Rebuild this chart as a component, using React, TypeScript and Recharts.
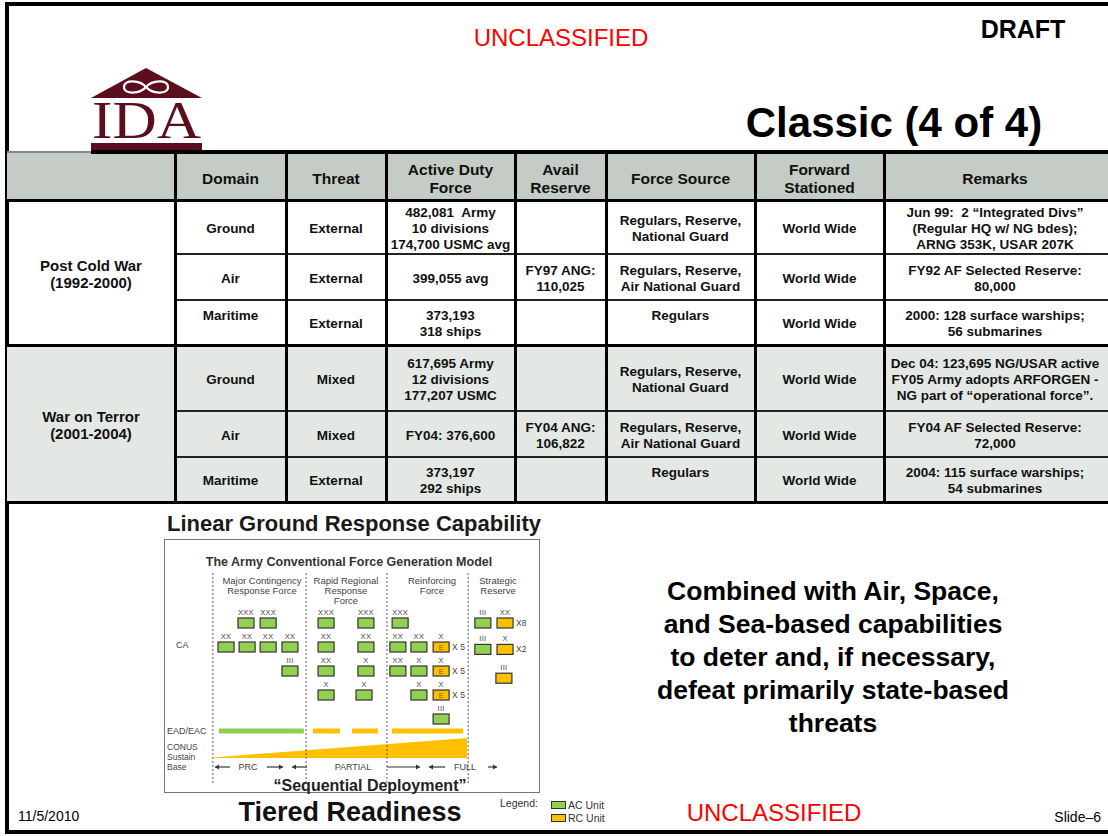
import React from "react";
import { ComposedChart, XAxis, YAxis, Scatter, Area, ReferenceLine } from "recharts";

const FONT = "'Liberation Sans', Arial, Helvetica, sans-serif";

// ---- table data ----
const headers = ["", "Domain", "Threat", "Active Duty\nForce", "Avail\nReserve", "Force Source", "Forward\nStationed", "Remarks"];
const eras = ["Post Cold War\n(1992-2000)", "War on Terror\n(2001-2004)"];
const domains = ["Ground", "Air", "Maritime", "Ground", "Air", "Maritime"];
const threats = ["External", "External", "External", "Mixed", "Mixed", "External"];
const activeForce = [
  "482,081  Army\n10 divisions\n174,700 USMC avg",
  "399,055 avg",
  "373,193\n318 ships",
  "617,695 Army\n12 divisions\n177,207 USMC",
  "FY04: 376,600",
  "373,197\n292 ships",
];
const availReserve = ["", "FY97 ANG:\n110,025", "", "", "FY04 ANG:\n106,822", ""];
const forceSource = [
  "Regulars, Reserve,\nNational Guard",
  "Regulars, Reserve,\nAir National Guard",
  "Regulars",
  "Regulars, Reserve,\nNational Guard",
  "Regulars, Reserve,\nAir National Guard",
  "Regulars",
];
const forwardStationed = ["World Wide", "World Wide", "World Wide", "World Wide", "World Wide", "World Wide"];
const remarks = [
  "Jun 99:  2 \u201cIntegrated Divs\u201d\n(Regular HQ w/ NG bdes);\nARNG 353K, USAR 207K",
  "FY92 AF Selected Reserve:\n80,000",
  "2000: 128 surface warships;\n56 submarines",
  "Dec 04: 123,695 NG/USAR active\nFY05 Army adopts ARFORGEN -\nNG part of \u201coperational force\u201d.",
  "FY04 AF Selected Reserve:\n72,000",
  "2004: 115 surface warships;\n54 submarines",
];

// ---- force generation model data ----
// x: position across the model (0-100), y: tier row
const units = [
  { x: 21.8, y: 0, ech: "XXX", comp: "AC" },
  { x: 27.7, y: 0, ech: "XXX", comp: "AC" },
  { x: 16.5, y: 1, ech: "XX", comp: "AC" },
  { x: 22.1, y: 1, ech: "XX", comp: "AC" },
  { x: 27.7, y: 1, ech: "XX", comp: "AC" },
  { x: 33.5, y: 1, ech: "XX", comp: "AC" },
  { x: 33.5, y: 2, ech: "III", comp: "AC" },
  { x: 43.1, y: 0, ech: "XXX", comp: "AC" },
  { x: 53.7, y: 0, ech: "XXX", comp: "AC" },
  { x: 43.1, y: 1, ech: "XX", comp: "AC" },
  { x: 53.7, y: 1, ech: "XX", comp: "AC" },
  { x: 43.1, y: 2, ech: "XX", comp: "AC" },
  { x: 53.7, y: 2, ech: "X", comp: "AC" },
  { x: 43.1, y: 3, ech: "X", comp: "AC" },
  { x: 53.2, y: 3, ech: "X", comp: "AC" },
  { x: 62.8, y: 0, ech: "XXX", comp: "AC" },
  { x: 62.2, y: 1, ech: "XX", comp: "AC" },
  { x: 67.8, y: 1, ech: "XX", comp: "AC" },
  { x: 73.7, y: 1, ech: "X", comp: "RC", e: true, mult: "X 5" },
  { x: 62.2, y: 2, ech: "XX", comp: "AC" },
  { x: 67.8, y: 2, ech: "X", comp: "AC" },
  { x: 73.7, y: 2, ech: "X", comp: "RC", e: true, mult: "X 5" },
  { x: 67.8, y: 3, ech: "X", comp: "AC" },
  { x: 73.7, y: 3, ech: "X", comp: "RC", e: true, mult: "X 5" },
  { x: 73.7, y: 4, ech: "III", comp: "AC" },
  { x: 84.8, y: 0, ech: "III", comp: "AC" },
  { x: 90.7, y: 0, ech: "XX", comp: "RC", mult: "X8" },
  { x: 84.8, y: 1.1, ech: "III", comp: "AC" },
  { x: 90.7, y: 1.1, ech: "X", comp: "RC", mult: "X2" },
  { x: 90.4, y: 2.3, ech: "III", comp: "RC" },
];
const dividers = [13.0, 37.8, 59.3, 80.9];
const eadBars = [
  { from: 14.6, to: 37.2, comp: "AC" },
  { from: 39.6, to: 46.8, comp: "RC" },
  { from: 50.0, to: 56.9, comp: "RC" },
  { from: 60.6, to: 79.5, comp: "RC" },
];
const sustainBase = [
  { x: 13.0, y: 5.6 },
  { x: 80.6, y: 4.79 },
];

const AC = "#92d050";
const RC = "#ffc000";
const MAROON = "#5b0f1e";

const colX = [7, 175, 286, 386, 515, 606, 755, 884, 1106];
const rowY = [152, 200, 254, 300, 345, 411, 457, 502];

function Txt({ x, y, size, weight = 400, color = "#000", align = "center", lh, children }: any) {
  const tx = align === "center" ? "-50%" : align === "right" ? "-100%" : "0";
  return (
    <div
      style={{
        position: "absolute",
        left: x,
        top: y,
        transform: `translate(${tx}, -50%)`,
        fontSize: size,
        fontWeight: weight,
        color,
        whiteSpace: "pre",
        textAlign: align,
        lineHeight: lh ? `${lh}px` : "normal",
        fontFamily: FONT,
      }}
    >
      {children}
    </div>
  );
}

function Cell({ c, r, text, size = 13.5, lh = 16, top = false, pad = 3 }: any) {
  return (
    <div
      style={{
        position: "absolute",
        left: colX[c],
        width: colX[c + 1] - colX[c],
        top: rowY[r],
        height: rowY[r + 1] - rowY[r],
        display: "flex",
        alignItems: top ? "flex-start" : "center",
        justifyContent: "center",
        paddingTop: top ? 8 : pad,
        boxSizing: "border-box",
        textAlign: "center",
        whiteSpace: "pre",
        fontSize: size,
        lineHeight: `${lh}px`,
        fontWeight: 700,
        fontFamily: FONT,
        color: "#111",
      }}
    >
      {text}
    </div>
  );
}

function UnitMark(props: any) {
  const { cx, cy, payload } = props;
  const fill = payload.comp === "AC" ? AC : RC;
  return (
    <g>
      <rect x={cx - 8} y={cy - 5} width={16} height={10} fill={fill} stroke="#333" strokeWidth={1.2} />
      <text x={cx} y={cy - 8} textAnchor="middle" fontSize={7.5} fill="#444" fontFamily={FONT} style={{ letterSpacing: 0.3 }}>
        {payload.ech}
      </text>
      {payload.e && (
        <text x={cx} y={cy + 3} textAnchor="middle" fontSize={7} fill="#7a5a00" fontFamily={FONT}>
          E
        </text>
      )}
      {payload.mult && (
        <text x={cx + 11} y={cy + 3} fontSize={8.5} fill="#444" fontFamily={FONT}>
          {payload.mult}
        </text>
      )}
    </g>
  );
}

function ForceModel() {
  return (
    <div style={{ position: "absolute", left: 164, top: 539, width: 376, height: 254, border: "1.5px solid #777", boxSizing: "border-box" }}>
      <div style={{ position: "absolute", left: -1.5, top: -1.5 }}>
        <ComposedChart width={376} height={254} margin={{ top: 0, right: 0, bottom: 0, left: 0 }}>
          <XAxis type="number" dataKey="x" domain={[0, 100]} hide allowDataOverflow />
          <YAxis type="number" dataKey="y" domain={[-3.5, 7.083]} reversed hide allowDataOverflow />
          {dividers.map((d) => (
            <ReferenceLine
              key={d}
              segment={[
                { x: d, y: -2.08 },
                { x: d, y: 6.67 },
              ]}
              stroke="#555"
              strokeDasharray="2 2"
              strokeWidth={1}
            />
          ))}
          {eadBars.map((b) => (
            <ReferenceLine
              key={b.from}
              segment={[
                { x: b.from, y: 4.5 },
                { x: b.to, y: 4.5 },
              ]}
              stroke={b.comp === "AC" ? "#8fd14f" : RC}
              strokeWidth={5}
            />
          ))}
          <Area
            data={sustainBase}
            dataKey="y"
            type="linear"
            baseValue={5.625}
            fill={RC}
            fillOpacity={1}
            stroke="none"
            dot={false}
            activeDot={false}
            isAnimationActive={false}
          />
          <Scatter data={units} shape={(p: any) => <UnitMark {...p} />} isAnimationActive={false} />
        </ComposedChart>
      </div>
    </div>
  );
}

function Arrow({ x1, x2, y }: any) {
  const dir = x2 > x1 ? 1 : -1;
  return (
    <g>
      <line x1={x1} y1={y} x2={x2} y2={y} stroke="#333" strokeWidth={1.2} />
      <path d={`M${x2},${y} L${x2 - dir * 4},${y - 2.5} L${x2 - dir * 4},${y + 2.5} Z`} fill="#333" />
    </g>
  );
}

function Logo() {
  return (
    <svg style={{ position: "absolute", left: 0, top: 0 }} width={220} height={160}>
      <polygon points="91,98 146,68 202,98" fill={MAROON} />
      <path
        d="M146,87 C140,80 124,79 124,87 C124,95 140,94 146,87 C152,80 168,79 168,87 C168,95 152,94 146,87 Z"
        fill="none"
        stroke="#fff"
        strokeWidth={2.2}
      />
      <text x={92} y={138} fontSize={52} fontFamily="'Liberation Serif', 'DejaVu Serif', serif" fill={MAROON} textLength={109} lengthAdjust="spacingAndGlyphs">
        IDA
      </text>
      <rect x={91} y={143} width={111} height={7} fill={MAROON} />
    </svg>
  );
}

export default function App() {
  const bodyRows = domains.map((_, i) => i);
  return (
    <div style={{ position: "absolute", left: 0, top: 0, width: 1108, height: 836, overflow: "hidden", background: "#fff", fontFamily: FONT }}>
      {/* slide frame */}
      <div style={{ position: "absolute", left: 5, top: 2, width: 1120, height: 832, border: "4px solid #000", borderRight: "none", boxSizing: "border-box" }} />

      <Txt x={561} y={38} size={24} color="#ff0000">UNCLASSIFIED</Txt>
      <Txt x={1023} y={29} size={25} weight={700}>DRAFT</Txt>
      <Txt x={894} y={123} size={42} weight={700}>Classic (4 of 4)</Txt>
      <Logo />

      {/* table backgrounds */}
      <div style={{ position: "absolute", left: 7, top: rowY[0], width: 1101, height: rowY[1] - rowY[0], background: "#c4ccc5" }} />
      <div style={{ position: "absolute", left: 7, top: rowY[4], width: 1101, height: rowY[7] - rowY[4], background: "#e4e8e4" }} />

      {headers.map((h, c) => (
        <Cell key={"h" + c} c={c} r={0} text={h} size={15.5} lh={18} pad={5} />
      ))}
      {eras.map((e, k) => (
        <div
          key={e}
          style={{
            position: "absolute",
            left: colX[0],
            width: colX[1] - colX[0],
            top: rowY[k * 3 + 1],
            height: rowY[k * 3 + 4] - rowY[k * 3 + 1],
            display: "flex",
            alignItems: "center",
            justifyContent: "center",
            whiteSpace: "pre",
            textAlign: "center",
            fontSize: 15,
            lineHeight: "17px",
            fontWeight: 700,
            color: "#111",
            paddingTop: 2,
            boxSizing: "border-box",
          }}
        >
          {e}
        </div>
      ))}
      {bodyRows.map((i) => (
        <React.Fragment key={"r" + i}>
          <Cell c={1} r={i + 1} text={domains[i]} top={i === 2} />
          <Cell c={2} r={i + 1} text={threats[i]} />
          <Cell c={3} r={i + 1} text={activeForce[i]} />
          <Cell c={4} r={i + 1} text={availReserve[i]} />
          <Cell c={5} r={i + 1} text={forceSource[i]} top={forceSource[i] === "Regulars"} />
          <Cell c={6} r={i + 1} text={forwardStationed[i]} />
          <Cell c={7} r={i + 1} text={remarks[i]} />
        </React.Fragment>
      ))}

      {/* table grid */}
      <div style={{ position: "absolute", left: 7, top: rowY[0] - 1, width: 84, height: 1.5, background: "#888" }} />
      <div style={{ position: "absolute", left: 91, top: rowY[0] - 2, width: 1017, height: 3.5, background: "#000" }} />
      {[rowY[1], rowY[4], rowY[7]].map((y) => (
        <div key={"t" + y} style={{ position: "absolute", left: 7, top: y - 1.5, width: 1101, height: 3.5, background: "#000" }} />
      ))}
      {[rowY[2], rowY[3], rowY[5], rowY[6]].map((y) => (
        <div key={"n" + y} style={{ position: "absolute", left: colX[1], top: y - 0.75, width: 1108 - colX[1], height: 1.5, background: "#222" }} />
      ))}
      {colX.slice(1, 8).map((x) => (
        <div key={"v" + x} style={{ position: "absolute", left: x - 1.5, top: rowY[0], width: 3.5, height: rowY[7] - rowY[0], background: "#000" }} />
      ))}

      {/* lower left: force generation model */}
      <Txt x={354} y={524} size={22} weight={700} color="#1a1a1a">Linear Ground Response Capability</Txt>
      <ForceModel />
      <Txt x={349} y={562} size={12.5} weight={700} color="#333">The Army Conventional Force Generation Model</Txt>
      <Txt x={262} y={586} size={9.5} color="#444" lh={10}>{"Major Contingency\nResponse Force"}</Txt>
      <Txt x={346} y={591} size={9.5} color="#444" lh={10}>{"Rapid Regional\nResponse\nForce"}</Txt>
      <Txt x={432} y={586} size={9.5} color="#444" lh={10}>{"Reinforcing\nForce"}</Txt>
      <Txt x={498} y={586} size={9.5} color="#444" lh={10}>{"Strategic\nReserve"}</Txt>
      <Txt x={176} y={645} size={9} color="#444" align="left">CA</Txt>
      <Txt x={167} y={731} size={9} color="#444" align="left">EAD/EAC</Txt>
      <Txt x={167} y={757} size={8.5} color="#444" align="left" lh={10}>{"CONUS\nSustain\nBase"}</Txt>
      <svg style={{ position: "absolute", left: 0, top: 0 }} width={560} height={800}>
        <Arrow x1={230} x2={215} y={767} />
        <Arrow x1={267} x2={283} y={767} />
        <Arrow x1={307} x2={292} y={767} />
        <Arrow x1={387} x2={420} y={767} />
        <Arrow x1={445} x2={429} y={767} />
        <Arrow x1={488} x2={497} y={767} />
      </svg>
      <Txt x={248} y={767} size={9} color="#444">PRC</Txt>
      <Txt x={353} y={767} size={9} color="#444">PARTIAL</Txt>
      <Txt x={465} y={767} size={9} color="#444">FULL</Txt>
      <Txt x={370} y={786} size={16} weight={700} color="#222">{"\u201cSequential Deployment\u201d"}</Txt>
      <Txt x={350} y={812} size={27} weight={700} color="#111">Tiered Readiness</Txt>

      {/* legend */}
      <Txt x={500} y={803} size={10.5} color="#333" align="left">Legend:</Txt>
      <div style={{ position: "absolute", left: 551, top: 801, width: 13, height: 6, background: AC, border: "1px solid #333" }} />
      <div style={{ position: "absolute", left: 551, top: 814, width: 13, height: 6, background: RC, border: "1px solid #333" }} />
      <Txt x={568} y={805} size={10.5} color="#333" align="left">AC Unit</Txt>
      <Txt x={568} y={818} size={10.5} color="#333" align="left">RC Unit</Txt>

      {/* message */}
      <Txt x={833} y={657} size={26.5} weight={700} lh={33}>
        {"Combined with Air, Space,\nand Sea-based capabilities\nto deter and, if necessary,\ndefeat primarily state-based\nthreats"}
      </Txt>

      {/* footer */}
      <Txt x={18} y={816} size={14} align="left">11/5/2010</Txt>
      <Txt x={774} y={813} size={24} color="#ff0000">UNCLASSIFIED</Txt>
      <Txt x={1101} y={817} size={14} align="right">{"Slide\u20136"}</Txt>
    </div>
  );
}
